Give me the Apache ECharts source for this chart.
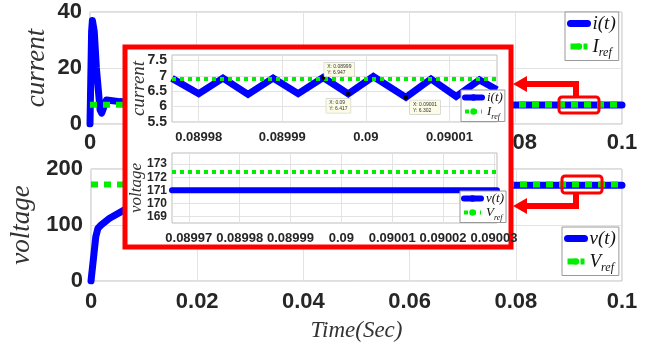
<!DOCTYPE html>
<html>
<head>
<meta charset="utf-8">
<script src="https://cdn.jsdelivr.net/npm/echarts@6/dist/echarts.min.js"></script>
<style>
html, body { margin: 0; padding: 0; background: #fff; }
#chart { width: 646px; height: 351px; }
</style>
</head>
<body>
<div id="chart"></div>
<script>
// main plots (whole run, 0..0.1 s)
var timeCurrent = [0, 0.0003, 0.00045, 0.0008, 0.0012, 0.0019, 0.0022, 0.0031, 0.0056, 0.01, 0.02, 0.04, 0.06, 0.08, 0.1];
var current = [0, 33, 37, 33, 20, 5, 3.9, 8.6, 8, 7.3, 7, 6.9, 6.8, 6.75, 6.75];
var timeVoltage = [0, 0.0009, 0.0013, 0.0019, 0.0035, 0.0063, 0.01, 0.02, 0.03, 0.04, 0.06, 0.08, 0.1];
var voltage = [0, 79, 94, 100, 112, 127, 140, 158, 166, 169, 171, 171, 171];
var timeRange = [0, 0.1];
var iRef = 6.9;
var vRef = 172.4;

// zoomed views around t = 0.09 s
var zoomTimeI = [0.0899768, 0.08998, 0.0899829, 0.0899859, 0.0899889, 0.0899919, 0.0899949, 0.0899979, 0.0900009, 0.0900048, 0.0900078, 0.0900108, 0.0900136, 0.0900157];
var zoomCurrent = [6.92, 6.42, 6.93, 6.4, 6.93, 6.42, 6.947, 6.417, 6.98, 6.302, 6.9, 6.33, 6.87, 6.55];
var zoomTimeV = [0.0899667, 0.0900306];
var zoomVoltage = [171, 171];

// tick values of the zoomed axes
var zoomTicksI = [0.08998, 0.08999, 0.09, 0.09001];
var zoomTicksV = [0.08997, 0.08998, 0.08999, 0.09, 0.09001, 0.09002, 0.09003];
var zoomTicksIY = [5.5, 6, 6.5, 7, 7.5];
var zoomTicksVY = [169, 170, 171, 172, 173];

// data tips on the zoomed current
var tipTimes = [0.0899949, 0.0899979, 0.0900048];
var tipValues = [6.947, 6.417, 6.302];
var tipLabels = ['X: 0.08999\nY: 6.947', 'X: 0.09\nY: 6.417', 'X: 0.09001\nY: 6.302'];

function pairs(xs, ys) {
  return xs.map(function (x, i) { return [x, ys[i]]; });
}
function flat(xs, v) {
  return [[xs[0], v], [xs[xs.length - 1], v]];
}

var BLUE = '#0000ff';
var GREEN = '#00ee00';
var TXT = '#262626';
var SERIF = 'Liberation Serif';
var SANS = 'Liberation Sans';

function tickLabel(size) {
  return { fontFamily: SANS, fontWeight: 'bold', fontSize: size, color: TXT };
}
function zoomFmt(v) { return String(+v.toFixed(5)); }

function legendFmt(name) {
  if (name === 'Iref') return '{m|I}{s|ref}';
  if (name === 'Vref') return '{m|V}{s|ref}';
  return '{m|' + name + '}';
}
function legendRich(big, small) {
  return {
    m: { fontFamily: SERIF, fontStyle: 'italic', fontSize: big, lineHeight: big + 5, verticalAlign: 'middle', color: '#111' },
    s: { fontFamily: SERIF, fontStyle: 'italic', fontSize: small, lineHeight: small, verticalAlign: 'bottom', color: '#111' }
  };
}
function makeLegend(names, left, top, big, small, w, solidW, dotW, dash, z, pad, gap) {
  return {
    orient: 'vertical', left: left, top: top, z: z,
    padding: pad, itemGap: gap, itemWidth: w, itemHeight: 8,
    backgroundColor: '#fff', borderColor: '#999', borderWidth: 1,
    formatter: legendFmt,
    textStyle: { rich: legendRich(big, small) },
    data: [
      { name: names[0], lineStyle: { width: solidW, type: 'solid' } },
      { name: names[1], lineStyle: { width: dotW, type: dash } }
    ]
  };
}

var mainLine = function (name, xi, data, color, width, dash, z) {
  return {
    name: name, type: 'line', xAxisIndex: xi, yAxisIndex: xi, data: data,
    symbol: 'none', z: z, animation: false,
    itemStyle: { color: color },
    lineStyle: { color: color, width: width, type: dash || 'solid', cap: dash ? 'butt' : 'round', join: 'round' }
  };
};

var chart = echarts.init(document.getElementById('chart'));

var gridLine = { show: true, lineStyle: { color: '#e3e3e3', width: 1 } };
var yName = function (text, size, gap) {
  return {
    name: text, nameLocation: 'middle', nameGap: gap, nameMoveOverlap: false,
    nameTextStyle: { fontFamily: SERIF, fontStyle: 'italic', fontSize: size, color: '#333' }
  };
};
// zoomed axis: fixed extent, ticks/labels/grid lines at the given values
function zoomAxis(grid, ext, ticks, size, margin, extra) {
  return Object.assign({
    gridIndex: grid, type: 'value', min: ext[0], max: ext[1], z: 20,
    axisLine: { show: false },
    axisTick: { show: false, customValues: ticks },
    splitLine: gridLine,
    axisLabel: Object.assign(tickLabel(size), { margin: margin, customValues: ticks })
  }, extra || {});
}

var insetI = mainLine('i(t)', 2, pairs(zoomTimeI, zoomCurrent), BLUE, 7, null, 21);
insetI.lineStyle.cap = 'butt';
insetI.lineStyle.join = 'miter';
insetI.markPoint = {
  z: 24, symbol: 'rect', symbolSize: 4, itemStyle: { color: '#000' },
  label: {
    show: true, fontFamily: SANS, fontSize: 5, lineHeight: 6, color: '#333',
    backgroundColor: '#fbfbe6', borderColor: '#bbb', borderWidth: 0.5, padding: [1, 3]
  },
  data: tipTimes.map(function (t, i) {
    var pos = [[3, -13], [-20, 7], [6, 5]][i];
    return { coord: [t, tipValues[i]], label: { formatter: tipLabels[i], position: pos } };
  })
};

var xI = zoomAxis(2, [zoomTimeI[0], zoomTimeI[zoomTimeI.length - 1]], zoomTicksI, 13, 9);
xI.axisLabel.formatter = zoomFmt;
var xV = zoomAxis(3, zoomTimeV, zoomTicksV, 13, 9);
xV.axisLabel.formatter = zoomFmt;
var yI = zoomAxis(2, [5.5, 7.68], zoomTicksIY, 14, 5, yName('current', 19, 24));
var yV = zoomAxis(3, [168.5, 173.85], zoomTicksVY, 12, 5, yName('voltage', 17, 27));

var option = {
  animation: false,
  backgroundColor: '#fff',
  grid: [
    { left: 90, top: 12, width: 532, height: 112, show: true, borderColor: '#bdbdbd', borderWidth: 1 },
    { left: 90, top: 169, width: 532, height: 112, show: true, borderColor: '#bdbdbd', borderWidth: 1 },
    { left: 172, top: 55, width: 325, height: 67, show: true, borderColor: '#bdbdbd', borderWidth: 1, z: 19 },
    { left: 172, top: 153, width: 325, height: 70, show: true, borderColor: '#bdbdbd', borderWidth: 1, z: 19 }
  ],
  xAxis: [
    { gridIndex: 0, type: 'value', min: 0, max: 0.1, interval: 0.02, axisLine: { show: false }, axisTick: { show: false },
      splitLine: gridLine, axisLabel: Object.assign(tickLabel(22), { margin: 8 }) },
    Object.assign({ gridIndex: 1, type: 'value', min: 0, max: 0.1, interval: 0.02, axisLine: { show: false }, axisTick: { show: false },
      splitLine: gridLine, axisLabel: Object.assign(tickLabel(22), { margin: 10 }) },
      { name: 'Time(Sec)', nameLocation: 'middle', nameGap: 38, nameMoveOverlap: false,
        nameTextStyle: { fontFamily: SERIF, fontStyle: 'italic', fontSize: 23, color: '#333' } }),
    xI,
    xV
  ],
  yAxis: [
    Object.assign({ gridIndex: 0, type: 'value', min: 0, max: 40, interval: 20, axisLine: { show: false }, axisTick: { show: false },
      splitLine: gridLine, axisLabel: Object.assign(tickLabel(22), { margin: 8 }) }, yName('current', 27, 40)),
    Object.assign({ gridIndex: 1, type: 'value', min: 0, max: 200, interval: 100, axisLine: { show: false }, axisTick: { show: false },
      splitLine: gridLine, axisLabel: Object.assign(tickLabel(22), { margin: 8 }) }, yName('voltage', 27, 56)),
    yI,
    yV
  ],
  legend: [
    makeLegend(['i(t)', 'Iref'], 565, 12, 19, 12, 17, 7, 6, [8, 5], 6, [2, 3, 2, 2], 4),
    makeLegend(['v(t)', 'Vref'], 562, 227, 19, 12, 17, 7, 6, [8, 5], 6, [2, 3, 2, 2], 4),
    makeLegend(['i(t)', 'Iref'], 461, 90, 13, 8, 17, 6, 4, [4, 4], 30, [1, 2, 1, 1], 1),
    makeLegend(['v(t)', 'Vref'], 460, 191, 13, 8, 17, 6, 4, [4, 4], 30, [1, 2, 1, 1], 1)
  ],
  graphic: { elements: [
    { type: 'rect', z: 10, shape: { x: 125, y: 47, width: 386, height: 200 },
      style: { fill: '#fff', stroke: '#ff0000', lineWidth: 5 } },
    { type: 'rect', z: 12, shape: { x: 559, y: 97, width: 40, height: 16, r: 3 },
      style: { fill: 'none', stroke: '#ff0000', lineWidth: 3 } },
    { type: 'rect', z: 12, shape: { x: 562, y: 176, width: 40, height: 17, r: 3 },
      style: { fill: 'none', stroke: '#ff0000', lineWidth: 3 } },
    { type: 'polyline', z: 12, shape: { points: [[576, 97], [576, 84], [524, 84]] },
      style: { fill: 'none', stroke: '#ff0000', lineWidth: 6 } },
    { type: 'polygon', z: 12, shape: { points: [[513, 84], [527, 76], [527, 92]] },
      style: { fill: '#ff0000' } },
    { type: 'polyline', z: 12, shape: { points: [[576, 193], [576, 206], [524, 206]] },
      style: { fill: 'none', stroke: '#ff0000', lineWidth: 6 } },
    { type: 'polygon', z: 12, shape: { points: [[513, 206], [527, 198], [527, 214]] },
      style: { fill: '#ff0000' } }
  ] },
  series: [
    mainLine('i(t)', 0, pairs(timeCurrent, current), BLUE, 7, null, 2),
    mainLine('Iref', 0, flat(timeRange, iRef), GREEN, 6, [7, 6], 3),
    mainLine('v(t)', 1, pairs(timeVoltage, voltage), BLUE, 7, null, 2),
    mainLine('Vref', 1, flat(timeRange, vRef), GREEN, 6, [7, 6], 3),
    insetI,
    mainLine('Iref', 2, flat(zoomTimeI, iRef), GREEN, 4, [4, 4], 22),
    mainLine('v(t)', 3, pairs(zoomTimeV, zoomVoltage), BLUE, 6, null, 21),
    mainLine('Vref', 3, flat(zoomTimeV, vRef), GREEN, 4, [4, 4], 22)
  ]
};

chart.setOption(option);
</script>
</body>
</html>
